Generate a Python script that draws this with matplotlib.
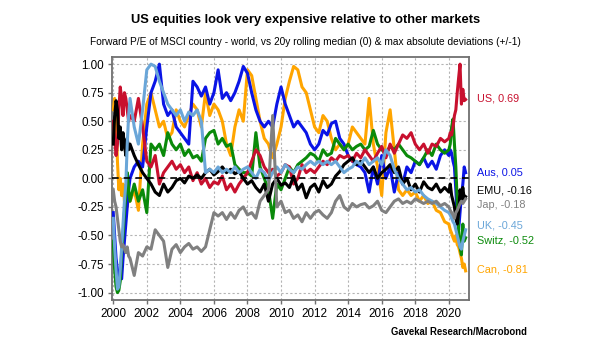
import numpy as np
import matplotlib
matplotlib.use("Agg")
import matplotlib.pyplot as plt
from matplotlib.ticker import MultipleLocator, FormatStrFormatter

plt.rcParams['axes.unicode_minus'] = False
FONT = ['Liberation Sans', 'DejaVu Sans']

# ---- data -------------------------------------------------------------
dates = np.concatenate([2000 + np.arange(12) / 12,
                        2001 + np.arange(76) / 4,
                        2020 + np.arange(13) / 12])

us = [0.5, 0.35, 0.2, 0.3, 0.6, 0.8, 0.7, 0.55, 0.75, 0.7, 0.6, 0.5,
      0.55, 0.5, 0.7, 0.45,  0.15, 0.1, 0.2, -0.05,  0.05, 0.1, 0.15, 0.08,
      0.12, 0.05, 0.1, -0.02,  0.05, -0.05, 0.0, -0.08,  -0.03, -0.05, 0.02, -0.1,
      -0.05, -0.12, -0.05, 0.0,  0.05, 0.15, 0.25, 0.2,  0.1, 0.05, 0.08, 0.02,
      0.05, 0.12, 0.1, -0.05,  0.0, 0.12, 0.05, 0.08,  0.05, 0.1, 0.15, 0.12,
      0.18, 0.15, 0.2, 0.18,  0.2, 0.15, 0.22, 0.18,  0.25, 0.2, 0.15, 0.22,
      0.28, 0.18, 0.3, 0.22,  0.3, 0.38, 0.35, 0.4,  0.3, 0.25, 0.3, 0.22,
      0.3, 0.28, 0.35, 0.32,
      0.35, 0.4, 0.38, 0.45, 0.55, 0.6, 0.75, 0.88, 1.0, 0.65, 0.78, 0.68, 0.69]

aus = [-0.3, -0.5, -0.7, -0.8, -0.88, -0.85, -0.88, -0.7, -0.55, -0.4, -0.25, -0.1,
       0.0, 0.1, 0.15, 0.1,  0.45, 0.75, 0.85, 1.0,  0.65, 0.55, 0.6, 0.45,
       0.4, 0.35, 0.3, 0.85,  0.8, 0.72, 0.8, 0.65,  0.75, 0.95, 0.7, 0.75,
       0.68, 0.75, 0.85, 0.98,  0.92, 0.75, 0.6, 0.5,  0.45, 0.5, 0.45, 0.65,
       0.8, 0.65, 0.55, 0.45,  0.5, 0.45, 0.4, 0.3,  0.25, 0.3, 0.42, 0.38,
       0.48, 0.5, 0.35, 0.3,  0.2, 0.15, 0.12, 0.1,  0.05, -0.12, 0.1, -0.05,
       0.2, 0.0, 0.1, -0.12,  0.05, -0.05, 0.1, 0.05,  0.15, 0.12, 0.18, 0.1,
       0.15, 0.08, 0.2, 0.25,
       0.2, 0.25, 0.22, 0.15, 0.1, -0.1, -0.35, -0.45, -0.3, -0.15, -0.05, 0.1, 0.05]

emu = [0.3, 0.55, 0.68, 0.6, 0.35, 0.45, 0.25, 0.4, 0.3, 0.2, 0.35, 0.25,
       0.3, 0.2, 0.12, 0.05,  0.0, -0.05, -0.12, -0.15,  -0.05, -0.12, -0.08, -0.02,
       0.0, -0.04, 0.02, 0.0,  0.03, 0.0, 0.05, 0.08,  0.03, 0.06, 0.1, 0.05,
       0.08, 0.04, 0.06, 0.0,  -0.05, -0.02, -0.08, -0.12,  -0.05, -0.2, -0.05, 0.0,
       -0.06, -0.04, -0.08, 0.02,  -0.1, -0.05, -0.17, -0.08,  -0.05, -0.12, -0.02, -0.08,
       -0.05, 0.02, 0.06, 0.12,  0.15, 0.18, 0.12, 0.15,  0.1, 0.05, 0.1, 0.0,
       0.05, 0.08, 0.12, 0.05,  0.1, -0.05, 0.0, -0.1,  -0.05, -0.12, -0.03, -0.08,
       -0.1, -0.05, -0.12, -0.08,
       -0.12, -0.05, -0.15, -0.2, -0.25, -0.35, -0.4, -0.3, -0.1, -0.2, -0.08, -0.18, -0.16]

jap = [-0.1, -0.2, -0.25, -0.35, -0.45, -0.55, -0.6, -0.58, -0.62, -0.65, -0.6, -0.68,
       -0.7, -0.85, -0.65, -0.68,  -0.6, -0.62, -0.45, -0.5,  -0.55, -0.78, -0.62, -0.58,
       -0.65, -0.6, -0.57, -0.62,  -0.6, -0.64, -0.6, -0.45,  -0.3, -0.33, -0.3, -0.36,
       -0.3, -0.35, -0.28, -0.25,  -0.32, -0.3, -0.35, -0.2,  -0.15, -0.1, 0.55, -0.25,
       -0.2, -0.3, -0.28, -0.35,  -0.32, -0.38, -0.3, -0.35,  -0.3, -0.28, -0.32, -0.35,
       -0.3, -0.2, -0.15, -0.25,  -0.28, -0.22, -0.25, -0.23,  -0.22, -0.26, -0.24, -0.2,
       -0.28, -0.3, -0.25, -0.2,  -0.18, -0.22, -0.2, -0.22,  -0.18, -0.2, -0.22, -0.2,
       -0.22, -0.2, -0.24, -0.22,
       -0.25, -0.28, -0.3, -0.32, -0.35, -0.3, -0.28, -0.25, -0.22, -0.2, -0.22, -0.2, -0.18]

uk = [-0.35, -0.6, -0.8, -0.97, -0.95, -0.8, -0.6, -0.4, -0.2, -0.05, 0.3, 0.55,
      0.7, 0.45, 0.3, 0.6,  0.95, 1.0, 0.98, 0.85,  0.75, 0.65, 0.6, 0.55,
      0.6, 0.5, 0.58, 0.55,  0.6, 0.5, 0.05, 0.08,  0.05, 0.1, 0.05, 0.08,
      0.05, 0.1, 0.05, 0.08,  0.1, 0.05, 0.0, 0.08,  0.05, -0.02, 0.05, 0.1,
      0.05, 0.12, 0.08, 0.05,  0.1, 0.08, 0.12, 0.15,  0.12, 0.15, 0.12, 0.15,
      0.12, 0.15, 0.1, 0.05,  0.08, 0.1, 0.15, 0.12,  0.18, 0.12, 0.15, 0.18,
      0.12, 0.25, 0.2, 0.08,  0.0, -0.05, -0.1, -0.08,  -0.12, -0.1, -0.15, -0.18,
      -0.2, -0.22, -0.25, -0.28,
      -0.3, -0.32, -0.35, -0.38, -0.4, -0.45, -0.5, -0.55, -0.6, -0.62, -0.55, -0.5, -0.45]

switz = [-0.55, -0.8, -0.95, -1.0, -0.98, -0.9, -0.65, -0.5, -0.3, -0.15, 0.05, -0.1,
         -0.2, -0.05, -0.2, -0.1,  -0.3, 0.3, 0.25, 0.3,  0.2, 0.4, 0.3, 0.25,
         0.3, 0.2, 0.25, 0.18,  0.2, 0.15, 0.35, 0.4,  0.42, 0.3, 0.35, 0.28,
         0.3, 0.12, 0.08, 0.05,  0.05, 0.02, 0.4, 0.1,  0.0, -0.1, -0.35, -0.05,
         -0.1, 0.0, 0.1, 0.05,  0.12, 0.15, 0.18, 0.22,  0.2, 0.15, 0.25, 0.2,
         0.22, 0.35, 0.3, 0.25,  0.3, 0.25, 0.28, 0.3,  0.25, 0.28, 0.42, 0.3,
         0.25, 0.22, 0.28, 0.25,  0.3, 0.25, 0.2, 0.18,  0.15, 0.12, 0.18, 0.25,
         0.2, 0.3, 0.25, 0.22,
         0.25, 0.3, 0.45, 0.52, 0.3, 0.1, -0.2, -0.45, -0.6, -0.67, -0.4, -0.55, -0.52]

can = [0.6, 0.7, 0.55, 0.15, -0.1, 0.0, -0.15, -0.05, -0.2, -0.1, -0.25, -0.15,
       -0.2, -0.1, -0.28, 0.3,  0.65, 0.75, 0.6, 0.45,  0.5, 0.35, 0.4, 0.6,
       0.5, 0.45, 0.55, 0.65,  0.6, 0.45, 0.75, 0.55,  0.65, 0.6, 0.5, 0.3,
       0.2, 0.45, 0.6, 0.5,  0.95, 0.9, 0.7, 0.5,  0.35, 0.3, 0.18, 0.3,
       0.45, 0.7, 0.85, 0.98,  0.95, 0.8, 0.75, 0.6,  0.45, 0.4, 0.55, 0.5,
       0.35, 0.25, 0.3, 0.25,  0.3, 0.45, 0.4, 0.35,  0.3, 0.7, 0.3, 0.1,
       -0.15, 0.4, 0.6, 0.25,  -0.1, -0.15, -0.1, -0.15,  -0.12, -0.2, -0.15, -0.22,
       -0.2, -0.28, -0.3, -0.38,
       -0.4, -0.45, -0.48, -0.52, -0.55, -0.5, -0.58, -0.6, -0.65, -0.7, -0.78, -0.75, -0.81]

names = ["US", "Aus", "EMU", "Jap", "UK", "Switz", "Can"]
series = [us, aus, emu, jap, uk, switz, can]
colors = ["#c8102e", "#0a14e6", "#000000", "#808080", "#6aa6d8", "#0a8a0a", "#ffa500"]
draw_order = [6, 1, 5, 0, 2, 4, 3]           # orange at back, gray on top
label_pos = [0.70, 0.05, -0.105, -0.23, -0.41, -0.545, -0.80]

x_ticks = list(range(2000, 2021, 2))

# ---- figure -----------------------------------------------------------
fig = plt.figure(figsize=(6.05, 3.41), dpi=100)
ax = fig.add_axes([0.1858, 0.1202, 0.5902, 0.7135])

for i in draw_order:
    ax.plot(dates, series[i], color=colors[i], lw=2.2, solid_joinstyle="round", zorder=3)

ax.axhline(0, color="black", lw=1.2, ls=(0, (4, 3)), zorder=4)

ax.set_xlim(1999.95, 2021.23)
ax.set_ylim(-1.065, 1.065)
ax.set_xticks(x_ticks)
ax.yaxis.set_major_locator(MultipleLocator(0.25))
ax.yaxis.set_major_formatter(FormatStrFormatter("%.2f"))
ax.grid(True, color="#b4b4b4", ls=(0, (2, 2)), lw=0.8, zorder=0)
for s in ax.spines.values():
    s.set_color("#707070")
    s.set_linewidth(1.3)
ax.tick_params(axis="both", direction="out", length=3, width=1, color="#707070",
               labelsize=8.4, pad=3)
for lab in ax.get_xticklabels() + ax.get_yticklabels():
    lab.set_family(FONT)

for i in range(len(names)):
    v = series[i][-1]
    ax.annotate(f"{names[i]}, {v:.2f}", xy=(1.0, label_pos[i]),
                xycoords=("axes fraction", "data"), xytext=(5.2, 0),
                textcoords="offset points", va="center", ha="left",
                color=colors[i], fontsize=7.8, family=FONT, annotation_clip=False)

t1 = fig.text(0.505, 1 - 22.7 / 341, "US equities look very expensive relative to other markets",
              ha="center", va="baseline", fontsize=11, fontweight="bold", family=FONT)
t2 = fig.text(0.505, 1 - 45 / 341,
              "Forward P/E of MSCI country - world, vs 20y rolling median (0) & max absolute deviations (+/-1)",
              ha="center", va="baseline", fontsize=8, family=FONT)
t3 = fig.text(526.7 / 605, 1 - 335 / 341, "Gavekal Research/Macrobond", ha="right",
              va="baseline", fontsize=8, fontweight="bold", family=FONT)

# scale the header / footer texts to the widths they take in the reference
fig.canvas.draw()
renderer = fig.canvas.get_renderer()
for t, w_target in [(t1, 350), (t2, 431), (t3, 137)]:
    w = t.get_window_extent(renderer).width
    t.set_fontsize(t.get_fontsize() * w_target / w)

fig.savefig("out.png", dpi=100)
